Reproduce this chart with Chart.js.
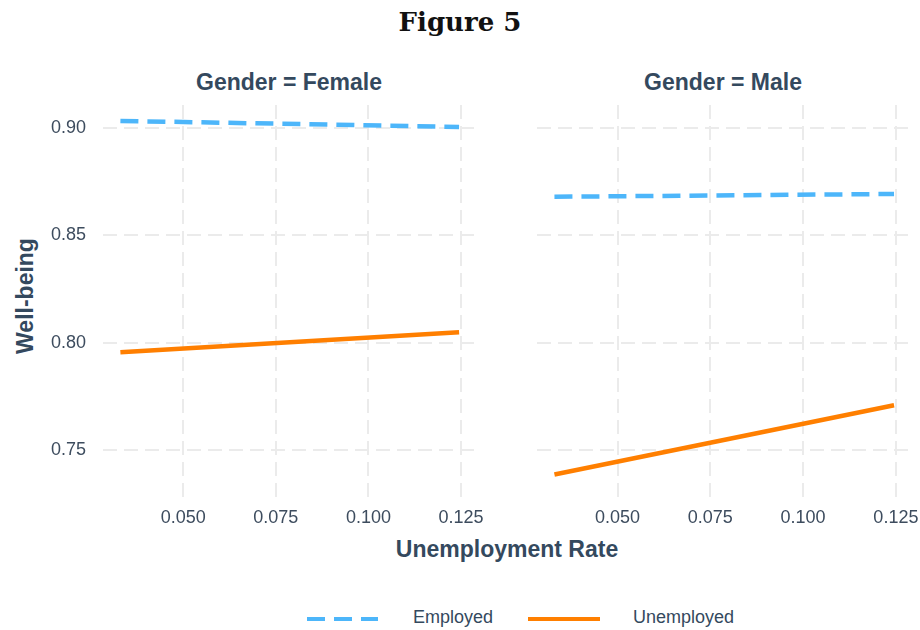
<!DOCTYPE html>
<html>
<head>
<meta charset="utf-8">
<script src="https://cdn.jsdelivr.net/npm/chart.js@4/dist/chart.umd.min.js"></script>
<style>
  html, body { margin: 0; padding: 0; background: #fff; }
  #page { position: relative; width: 920px; height: 630px; overflow: hidden; font-family: "Liberation Sans", Arial, sans-serif; color: #34495e; }
  .txt { position: absolute; white-space: nowrap; }
  .title { left: 0; width: 920px; top: 7px; text-align: center; font-family: "DejaVu Serif", serif; font-weight: bold; font-size: 26px; color: #111; }
  .facet { top: 69px; font-weight: bold; font-size: 23px; text-align: center; width: 372px; }
  .ylab { left: 25px; top: 296px; font-weight: bold; font-size: 23px; transform: translate(-50%, -50%) rotate(-90deg); }
  .xlab { left: 0; width: 1014px; top: 536px; text-align: center; font-weight: bold; font-size: 23px; }
  canvas { position: absolute; }
  .leg { position: absolute; top: 607px; font-size: 18px; color: #34495e; }
  .swatch { position: absolute; height: 4px; top: 617px; }
</style>
</head>
<body>
<div id="page">
  <div class="txt title">Figure 5</div>
  <div class="txt facet" style="left:103px">Gender = Female</div>
  <div class="txt facet" style="left:537px">Gender = Male</div>
  <div class="txt ylab">Well-being</div>
  <div class="txt xlab">Unemployment Rate</div>
  <canvas id="female" width="500" height="440" style="left:0;top:100px"></canvas>
  <canvas id="male" width="440" height="440" style="left:480px;top:100px"></canvas>
  <div class="swatch" style="left:307px;width:71px;background:repeating-linear-gradient(90deg,#4db6fa 0 18px,transparent 18px 27px)"></div>
  <div class="leg" style="left:413px">Employed</div>
  <div class="swatch" style="left:528px;width:72px;background:#ff7f00"></div>
  <div class="leg" style="left:633px">Unemployed</div>
</div>
<script>
const rates = [0.033, 0.1245];
const femaleEmployed = [0.9033, 0.9005];
const femaleUnemployed = [0.7957, 0.805];
const maleEmployed = [0.868, 0.8693];
const maleUnemployed = [0.7388, 0.771];
const xTicks = [0.05, 0.075, 0.1, 0.125];
const yTicks = [0.75, 0.8, 0.85, 0.9];

const gridStyle = { color: "#ebebeb", lineWidth: 2, drawTicks: false };
const tickFont = { family: "Liberation Sans", size: 18 };
const tickColor = "#3d4c5e";

function toPoints(values) {
    return rates.map((x, i) => ({ x: x, y: values[i] }));
}

function noPadding(axis) {
    axis.paddingTop = 0;
    axis.paddingBottom = 0;
    axis.paddingLeft = 0;
    axis.paddingRight = 0;
}

function makePanel(canvasId, employed, unemployed, showYLabels, yWidth, padRight) {
    const canvas = document.getElementById(canvasId);
    return new Chart(canvas, {
        type: "line",
        data: {
            datasets: [
                {
                    label: "Employed",
                    data: toPoints(employed),
                    borderColor: "#4db6fa",
                    borderWidth: 4.5,
                    borderDash: [18, 9],
                    pointRadius: 0,
                    fill: false
                },
                {
                    label: "Unemployed",
                    data: toPoints(unemployed),
                    borderColor: "#ff7f00",
                    borderWidth: 4.5,
                    pointRadius: 0,
                    fill: false
                }
            ]
        },
        options: {
            responsive: false,
            animation: false,
            layout: { padding: { top: 5, right: padRight, left: 0, bottom: 0 } },
            plugins: { legend: { display: false }, tooltip: { enabled: false } },
            scales: {
                x: {
                    type: "linear",
                    min: 0.0283,
                    max: 0.1288,
                    afterBuildTicks: (axis) => { axis.ticks = xTicks.map((v) => ({ value: v })); },
                    afterFit: (axis) => { axis.height = 43; noPadding(axis); },
                    grid: gridStyle,
                    border: { display: false, dash: [14, 7] },
                    ticks: {
                        padding: 10,
                        color: tickColor,
                        font: tickFont,
                        callback: (v) => Number(v).toFixed(3)
                    }
                },
                y: {
                    min: 0.7283,
                    max: 0.9107,
                    afterBuildTicks: (axis) => { axis.ticks = yTicks.map((v) => ({ value: v })); },
                    afterFit: (axis) => { axis.width = yWidth; noPadding(axis); },
                    grid: gridStyle,
                    border: { display: false, dash: [14, 7] },
                    ticks: {
                        display: showYLabels,
                        padding: 17,
                        color: tickColor,
                        font: tickFont,
                        callback: (v) => Number(v).toFixed(2)
                    }
                }
            }
        }
    });
}

makePanel("female", femaleEmployed, femaleUnemployed, true, 103, 25);
makePanel("male", maleEmployed, maleUnemployed, false, 57, 10);
</script>
</body>
</html>
